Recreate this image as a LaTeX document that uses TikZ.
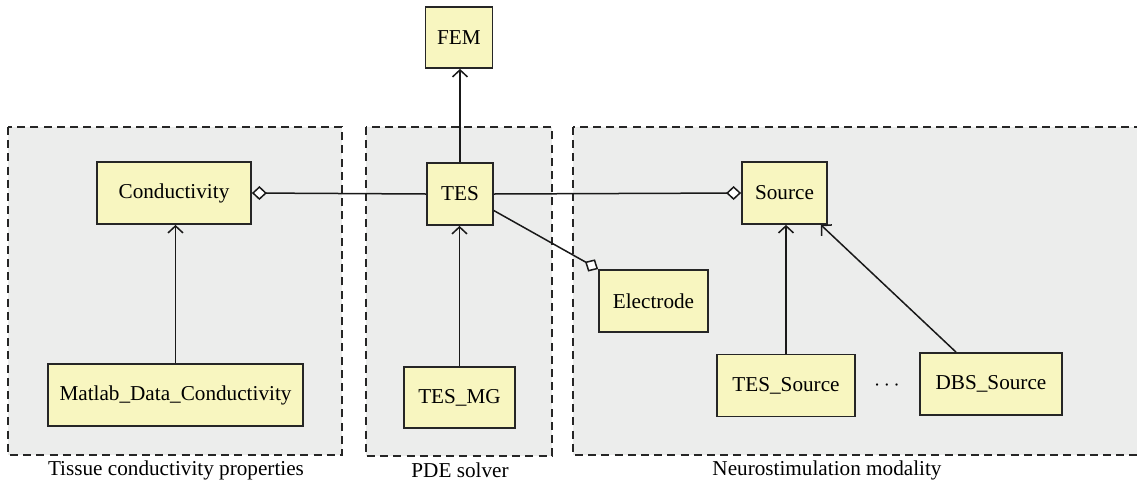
\documentclass[tikz,border=0pt]{standalone}
\usepackage{fontspec}
\setmainfont{Liberation Serif}
\usetikzlibrary{arrows.meta,calc}
\definecolor{boxfill}{RGB}{248,246,192}
\definecolor{grpfill}{RGB}{236,237,236}
\tikzset{
  cls/.style={draw=black!85, line width=0.9pt, fill=boxfill, inner sep=0pt, minimum height=31pt, font=\fontsize{10.6}{12}\selectfont},
  grp/.style={draw=black!85, fill=grpfill, line width=0.7pt, dash pattern=on 4pt off 2.6pt},
  grplabel/.style={font=\fontsize{10.6}{12}\selectfont, inner sep=0pt},
  conn/.style={draw=black!90, line width=0.75pt},
  agg/.style={conn, -{Diamond[length=7.5pt,width=7pt,fill=white,line width=0.75pt]}},
  gen/.style={conn, -{Straight Barb[length=3.5pt,width=7.5pt,line width=0.75pt]}}
}
\begin{document}
\begin{tikzpicture}[x=0.5pt,y=-0.5pt]
\useasboundingbox (0,0) rectangle (1137,483);
% groups
\path[grp] (8,127) rectangle (342,455);
\path[grp] (366,127) rectangle (552,456);
\path[grp] (573,127) rectangle (1150,455);
\node[grplabel] (g1) at (176,470) {Tissue conductivity properties};
\node[grplabel] (g2) at (460,470) {PDE solver};
\node[grplabel] (g3) at (827,470) {Neurostimulation modality};
% classes
\node[cls, minimum width=77pt] (cond) at (174,193) {Conductivity};
\node[cls, minimum width=127.5pt] (mdc) at (175.5,395) {Matlab\_Data\_Conductivity};
\node[cls, minimum width=33.5pt, minimum height=30.5pt] (fem) at (459,37.5) {FEM};
\node[cls, minimum width=33pt] (tes) at (460,194) {TES};
\node[cls, minimum width=55.5pt, minimum height=30.5pt] (tesmg) at (459.5,397.5) {TES\_MG};
\node[cls, minimum width=42.5pt] (src) at (784.5,193) {Source};
\node[cls, minimum width=54.5pt] (elec) at (653.5,301) {Electrode};
\node[cls, minimum width=69pt] (tessrc) at (786,385.5) {TES\_Source};
\node[cls, minimum width=71pt] (dbssrc) at (991,384) {DBS\_Source};
\node[font=\fontsize{10.6}{12}\selectfont, inner sep=0pt] (dots) at (887,386) {$\cdots$};
% connectors
\draw[agg] (tes.west) -- (cond.east);
\draw[agg] (tes.east) -- (src.west);
\draw[agg] ($(tes.north east)!0.76!(tes.south east)$) -- (elec.north west);
\draw[gen] (tes.north) -- (tes.north |- fem.south);
\draw[gen] (tesmg.north) -- (tesmg.north |- tes.south);
\draw[gen] (mdc.north) -- (mdc.north |- cond.south);
\draw[gen] (tessrc.north) -- (tessrc.north |- src.south);
\draw[gen] ([xshift=-17.5pt]dbssrc.north) -- ([xshift=-3.5pt]src.south east);
\end{tikzpicture}
\end{document}
